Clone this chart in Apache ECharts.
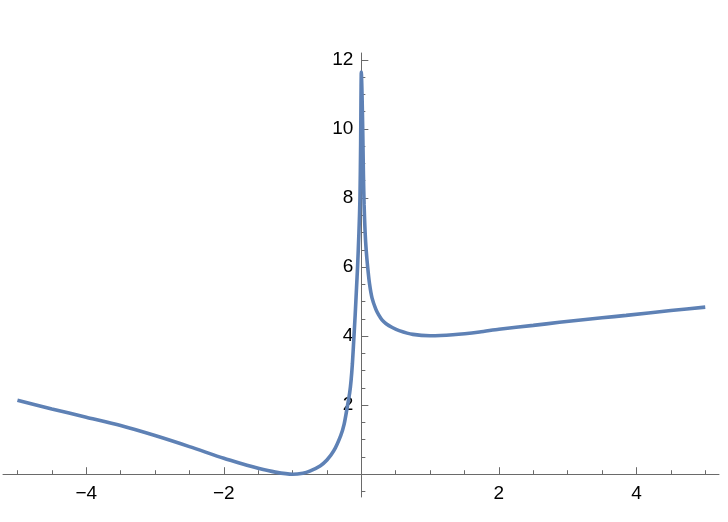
<!DOCTYPE html>
<html>
<head>
<meta charset="utf-8">
<script src="https://cdn.jsdelivr.net/npm/echarts@6/dist/echarts.min.js"></script>
<style>
  html, body { margin: 0; padding: 0; background: #fff; }
  #chart { width: 728px; height: 522px; }
</style>
</head>
<body>
<div id="chart"></div>
<script>
// curve points
var xs = [-5.0, -4.5, -4.0, -3.5, -3.0, -2.5, -2.0, -1.75, -1.5, -1.25, -1.0, -0.85, -0.75, -0.6,
  -0.5, -0.4, -0.3, -0.25, -0.2, -0.17, -0.15, -0.13, -0.11, -0.09, -0.07, -0.055, -0.035, -0.02, -0.01, 0,
  0.01, 0.02, 0.03, 0.04, 0.055, 0.07, 0.092, 0.12, 0.156, 0.21, 0.25, 0.3, 0.36, 0.45, 0.55, 0.75, 1.0,
  1.33, 1.72, 2.0, 2.5, 2.88, 3.5, 3.85, 4.5, 5.0];
var ys = [2.14, 1.89, 1.65, 1.41, 1.12, 0.80, 0.46, 0.31, 0.17, 0.06, 0.0, 0.03, 0.09, 0.24,
  0.41, 0.68, 1.12, 1.45, 2.0, 2.35, 2.7, 3.2, 3.9, 4.6, 5.4, 6.0, 7.0, 8.0, 9.6, 11.65,
  11.0, 10.0, 8.7, 7.8, 7.0, 6.5, 6.0, 5.5, 5.1, 4.78, 4.62, 4.47, 4.36, 4.25, 4.16, 4.05, 4.01,
  4.04, 4.12, 4.2, 4.31, 4.4, 4.53, 4.6, 4.74, 4.84];

var xMajor = [-4, -2, 2, 4];
var xMinor = [-5, -4.5, -3.5, -3, -2.5, -1.5, -1, -0.5, 0.5, 1, 1.5, 2.5, 3, 3.5, 4.5, 5];
var yMajor = [2, 4, 6, 8, 10, 12];
var yMinor = [-0.5, 0.5, 1, 1.5, 2.5, 3, 3.5, 4.5, 5, 5.5, 6.5, 7, 7.5, 8.5, 9, 9.5, 10.5, 11, 11.5];

var points = xs.map(function(x, i) { return [x, ys[i]]; });

var xMin = -5.21, xMax = 5.2, yMin = -0.66, yMax = 12.2;
var gridL = 3, gridR = 9, gridT = 53, gridB = 25;
var W = 728, H = 522;

// the axes cross at the origin: shift them there from the grid edges
var yAxisShift = -(W - gridL - gridR) * (0 - xMin) / (xMax - xMin);
var xAxisShift = -(H - gridT - gridB) * (0 - yMin) / (yMax - yMin);

var axisColor = '#6a6a6a';
var labelFont = { color: '#000', fontSize: 19, fontFamily: '"Liberation Sans", Arial, sans-serif' };

function minus(v) { return String(v).replace('-', '\u2212'); }

var chart = echarts.init(document.getElementById('chart'));

var option = {
  animation: false,
  grid: { left: gridL, right: gridR, top: gridT, bottom: gridB, containLabel: false, outerBoundsMode: 'none' },
  xAxis: [{
    type: 'value', min: xMin, max: xMax, position: 'bottom', offset: xAxisShift,
    axisLine: { onZero: false, lineStyle: { color: axisColor, width: 1 } },
    axisTick: { inside: true, length: 7, customValues: xMajor, lineStyle: { color: axisColor } },
    axisLabel: Object.assign({ customValues: xMajor, margin: 10, formatter: minus }, labelFont),
    splitLine: { show: false }
  }, {
    type: 'value', min: xMin, max: xMax, position: 'bottom', offset: xAxisShift,
    axisLine: { show: false, onZero: false },
    axisTick: { inside: true, length: 4, customValues: xMinor, lineStyle: { color: axisColor } },
    axisLabel: { show: false },
    splitLine: { show: false }
  }],
  yAxis: [{
    type: 'value', min: yMin, max: yMax, position: 'left', offset: yAxisShift,
    axisLine: { onZero: false, lineStyle: { color: axisColor, width: 1 } },
    axisTick: { inside: true, length: 7, customValues: yMajor, lineStyle: { color: axisColor } },
    axisLabel: Object.assign({ customValues: yMajor, margin: 8 }, labelFont),
    splitLine: { show: false }
  }, {
    type: 'value', min: yMin, max: yMax, position: 'left', offset: yAxisShift,
    axisLine: { show: false, onZero: false },
    axisTick: { inside: true, length: 4, customValues: yMinor, lineStyle: { color: axisColor } },
    axisLabel: { show: false },
    splitLine: { show: false }
  }],
  series: [{
    type: 'line',
    data: points,
    showSymbol: false,
    smooth: 0.25,
    lineStyle: { color: '#5E81B5', width: 3.6 },
    xAxisIndex: 0,
    yAxisIndex: 0
  }]
};

chart.setOption(option);
</script>
</body>
</html>
